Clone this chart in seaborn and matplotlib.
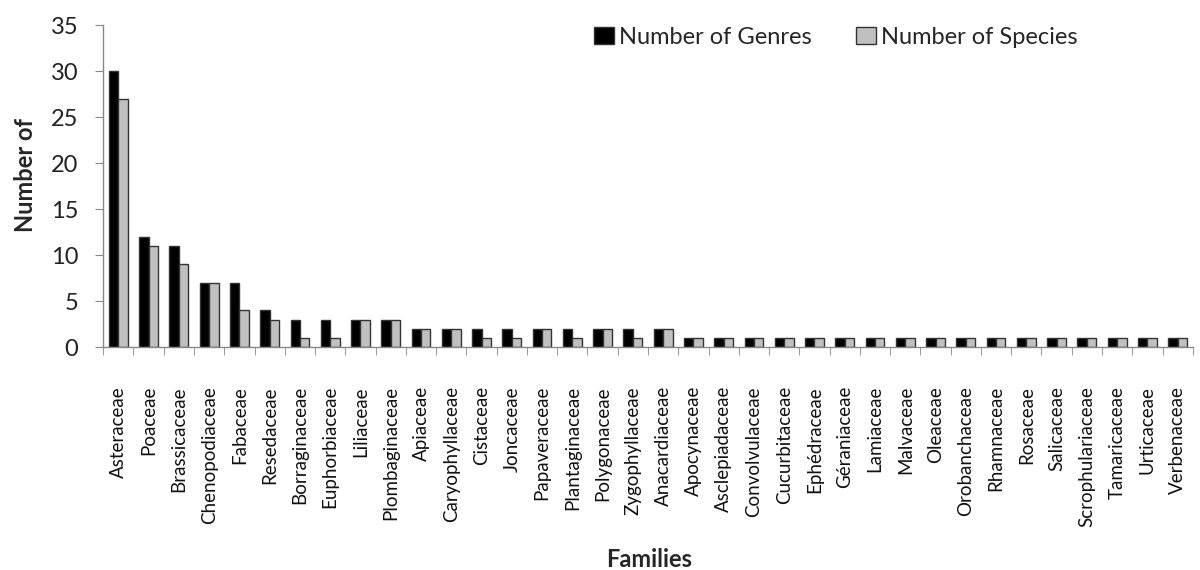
import matplotlib
matplotlib.use("Agg")
import matplotlib.pyplot as plt
import pandas as pd
import seaborn as sns
from matplotlib.ticker import FixedLocator

# ------------------------------------------------------------
# Data
# ------------------------------------------------------------

families = [
    "Asteraceae", "Poaceae", "Brassicaceae", "Chenopodiaceae", "Fabaceae",
    "Resedaceae", "Borraginaceae", "Euphorbiaceae", "Liliaceae", "Plombaginaceae",
    "Apiaceae", "Caryophyllaceae", "Cistaceae", "Joncaceae", "Papaveraceae",
    "Plantaginaceae", "Polygonaceae", "Zygophyllaceae", "Anacardiaceae",
    "Apocynaceae", "Asclepiadaceae", "Convolvulaceae", "Cucurbitaceae",
    "Ephédraceae", "Géraniaceae", "Lamiaceae", "Malvaceae", "Oleaceae",
    "Orobanchaceae", "Rhamnaceae", "Rosaceae", "Salicaceae",
    "Scrophulariaceae", "Tamaricaceae", "Urticaceae", "Verbenaceae",
]

genres = [30, 12, 11, 7, 7, 4, 3, 3, 3, 3,
          2, 2, 2, 2, 2, 2, 2, 2, 2,
          1, 1, 1, 1, 1, 1, 1, 1, 1, 1, 1, 1, 1, 1, 1, 1, 1]

species = [27, 11, 9, 7, 4, 3, 1, 1, 3, 3,
           2, 2, 1, 1, 2, 1, 2, 1, 2,
           1, 1, 1, 1, 1, 1, 1, 1, 1, 1, 1, 1, 1, 1, 1, 1, 1]

series_names = ["Number of Genres", "Number of Species"]
y_ticks = [0, 5, 10, 15, 20, 25, 30, 35]

df = pd.DataFrame({
    "family": families * 2,
    "value": genres + species,
    "series": [series_names[0]] * len(families) + [series_names[1]] * len(families),
})

# ------------------------------------------------------------
# Plot
# ------------------------------------------------------------

sns.set_style("white")
plt.rcParams["font.family"] = ["Lato", "DejaVu Sans"]

fig = plt.figure(figsize=(12, 5.7), dpi=100)
ax = fig.add_axes([0.086, 0.391, 0.908, 0.565])

sns.barplot(
    data=df, x="family", y="value", hue="series",
    palette=["black", "#c0c0c0"], edgecolor="#333333", linewidth=1.0,
    width=0.62, order=families, hue_order=series_names, ax=ax,
)

ax.set_xlim(-0.5, len(families) - 0.5)
ax.set_ylim(0, 35)
ax.set_yticks(y_ticks)
ax.tick_params(axis="y", labelsize=17, length=6, direction="out",
               color="#888888", left=True, pad=12, labelcolor="#222222")

# Excel-style ticks between categories
ax.tick_params(axis="x", which="major", length=0, labelsize=13.5,
               labelrotation=90, pad=28, labelcolor="#111111")
ax.xaxis.set_minor_locator(FixedLocator([i - 0.5 for i in range(len(families) + 1)]))
ax.tick_params(axis="x", which="minor", length=6, direction="out",
               color="#888888", bottom=True)

for side in ["top", "right"]:
    ax.spines[side].set_visible(False)
for side in ["left", "bottom"]:
    ax.spines[side].set_color("#888888")
    ax.spines[side].set_linewidth(1.0)

ax.set_xlabel("Families", fontsize=17, fontweight="bold")
ax.xaxis.set_label_coords(0.501, -0.624)
ax.set_ylabel("Number of", fontsize=17, fontweight="bold")
ax.yaxis.label.set_verticalalignment("center")
ax.yaxis.label.set_horizontalalignment("center")
ax.yaxis.set_label_coords(-0.0716, 0.534)

ax.legend(
    loc="center left", bbox_to_anchor=(582 / 1200, 1 - 37 / 570),
    bbox_transform=fig.transFigure, ncol=2, frameon=False, borderpad=0,
    fontsize=17, handlelength=0.85, handleheight=0.72, columnspacing=1.9,
    handletextpad=0.2,
)

plt.savefig("out.png", dpi=100)
plt.close()
